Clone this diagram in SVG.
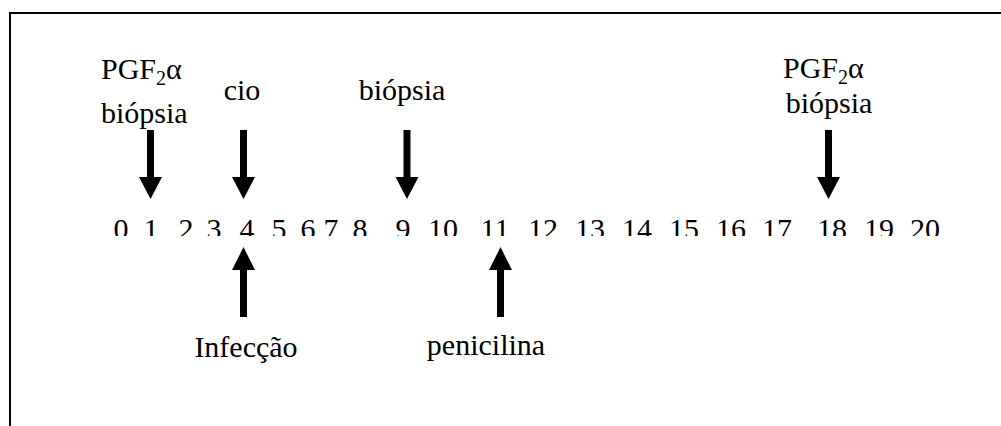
<svg xmlns="http://www.w3.org/2000/svg" width="1001" height="426" viewBox="0 0 1001 426" font-family="'Liberation Serif', 'Times New Roman', Times, serif">
<style>
text{font-family:'Liberation Serif','Times New Roman',Times,serif;font-size:30px;fill:#000}
.n{text-anchor:middle}
.arr{fill:#000;stroke:none}
</style>
<defs>
<clipPath id="numclip"><rect x="0" y="200" width="1001" height="36"/></clipPath>
<path id="down" d="M-3.5,0 H3.5 V47 H11.5 L0,69 L-11.5,47 H-3.5 Z"/>
<path id="up" d="M0,0 L11.5,23 H3.5 V70 H-3.5 V23 H-11.5 Z"/>
</defs>
<rect width="1001" height="426" fill="#fff"/>
<g id="frame"><path d="M10,426 V13 H1001" fill="none" stroke="#000" stroke-width="2"/></g>
<g id="axis" clip-path="url(#numclip)">
<text class="n" x="121" y="239">0</text>
<text class="n" x="151" y="239">1</text>
<text class="n" x="186" y="239">2</text>
<text class="n" x="214" y="239">3</text>
<text class="n" x="247" y="239">4</text>
<text class="n" x="279" y="239">5</text>
<text class="n" x="308" y="239">6</text>
<text class="n" x="331" y="239">7</text>
<text class="n" x="360" y="239">8</text>
<text class="n" x="403" y="239">9</text>
<text class="n" x="443" y="239">10</text>
<text class="n" x="495" y="239">11</text>
<text class="n" x="543" y="239">12</text>
<text class="n" x="590" y="239">13</text>
<text class="n" x="637" y="239">14</text>
<text class="n" x="684" y="239">15</text>
<text class="n" x="731" y="239">16</text>
<text class="n" x="777" y="239">17</text>
<text class="n" x="832" y="239">18</text>
<text class="n" x="879" y="239">19</text>
<text class="n" x="925" y="239">20</text>
</g>
<g id="label-day1">
<text x="101" y="79">PGF<tspan font-size="20" dy="6">2</tspan><tspan dy="-6">α</tspan></text>
<text x="101" y="123">biópsia</text>
</g>
<g id="label-cio"><text class="n" x="242" y="100">cio</text></g>
<g id="label-day9"><text class="n" x="402" y="100">biópsia</text></g>
<g id="label-day18">
<text x="783" y="78">PGF<tspan font-size="20" dy="6">2</tspan><tspan dy="-6">α</tspan></text>
<text class="n" x="829" y="113">biópsia</text>
</g>
<g id="label-infeccao"><text class="n" x="246" y="357">Infecção</text></g>
<g id="label-penicilina"><text class="n" x="486" y="355">penicilina</text></g>
<g id="connectors">
<use href="#down" x="150.5" y="130" class="arr"/>
<use href="#down" x="243.5" y="130" class="arr"/>
<use href="#down" x="407" y="130" class="arr"/>
<use href="#down" x="828.5" y="130" class="arr"/>
<use href="#up" x="243.5" y="247" class="arr"/>
<use href="#up" x="500.5" y="247" class="arr"/>
</g>
</svg>
